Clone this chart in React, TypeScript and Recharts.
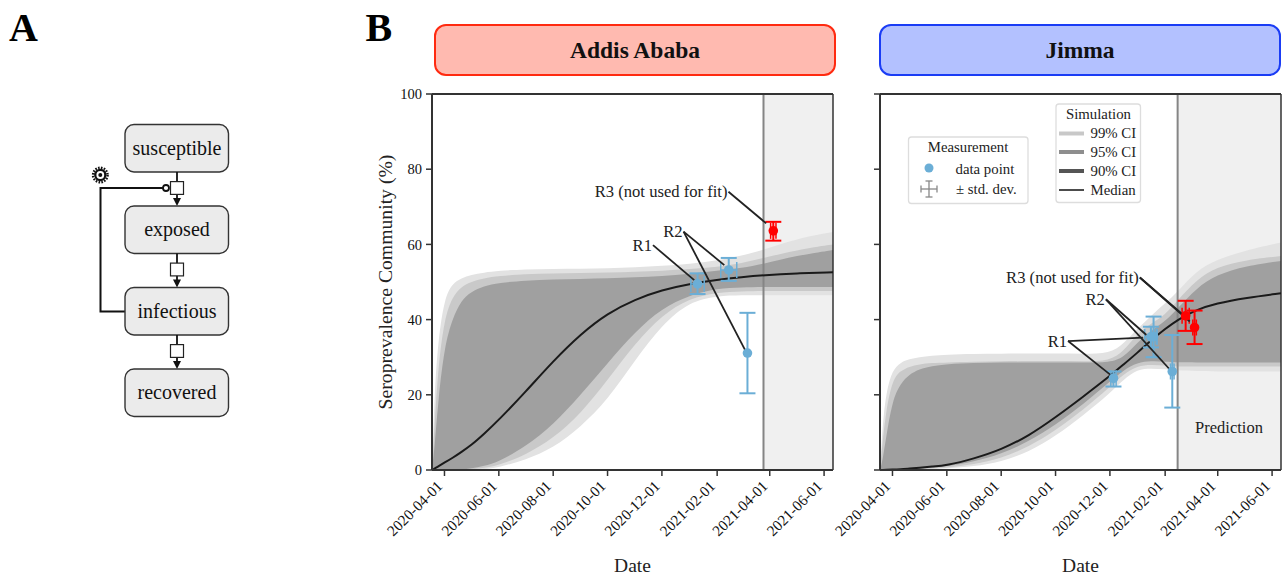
import React from 'react';
import {
  ComposedChart, Area, Line, Scatter, ErrorBar, XAxis, YAxis,
  ReferenceArea, ReferenceLine, ReferenceDot,
} from 'recharts';

const SERIF = '"Liberation Serif", "Times New Roman", serif';

// ----- shared axis content -----
const tickDates = ['2020-04-01', '2020-06-01', '2020-08-01', '2020-10-01', '2020-12-01', '2021-02-01', '2021-04-01', '2021-06-01'];
const yTicks = [0, 20, 40, 60, 80, 100];
const toDay = (s: string) => Math.round((Date.parse(s) - Date.parse('2020-04-01')) / 864e5);
const fromDay = (d: number) => new Date(Date.parse('2020-04-01') + d * 864e5).toISOString().slice(0, 10);
const domainDays = [-14, 436];

// ----- Addis Ababa simulation -----
const addisDays = [-14, -11, -7, 0, 9, 19, 30, 44, 61, 91, 122, 153, 183, 214, 244, 275, 306, 334, 358, 395, 436];
const addisHi99 = [0, 21.3, 34.6, 45.7, 49.6, 51, 51.9, 52.5, 53, 53.4, 53.5, 53.5, 53.6, 53.9, 54.3, 54.8, 55.7, 57, 58.5, 61.5, 63.3];
const addisHi95 = [0, 12.4, 27.5, 40.3, 46.1, 48.8, 50.1, 51, 51.6, 52.1, 52.3, 52.4, 52.5, 52.7, 53, 53.4, 54, 55, 56.4, 58.5, 60];
const addisHi90 = [0, 6.2, 18.6, 32.8, 40.3, 45.2, 47.4, 48.9, 49.8, 50.4, 50.7, 50.8, 51, 51.2, 51.6, 52.1, 53, 53.7, 54.8, 57, 58.5];
const addisLo99 = [0, 0, 0, 0, 0, 0, 0.1, 0.2, 0.7, 2.7, 5.8, 11.5, 18.6, 29.3, 38.6, 44.8, 46.3, 46.5, 46.5, 46.5, 46.5];
const addisLo95 = [0, 0, 0, 0, 0, 0, 0.2, 0.5, 1.3, 4, 8.4, 15, 23.9, 33.7, 41.2, 45.7, 47.2, 47.5, 47.6, 47.6, 47.6];
const addisLo90 = [0, 0, 0, 0, 0, 0.1, 0.4, 1, 2.2, 6.2, 12, 20, 28.4, 36.8, 43, 46.5, 48.3, 48.6, 48.7, 48.7, 48.7];
const addisMedian = [0, 0.4, 1, 1.95, 3.2, 4.8, 6.6, 9.5, 13.3, 20.8, 29, 36.2, 41.7, 45.4, 47.9, 49.5, 50.6, 51.3, 51.8, 52.3, 52.6];

// ----- Jimma simulation -----
const jimmaDays = [-14, -11, -7, 0, 9, 19, 30, 44, 61, 91, 122, 153, 183, 214, 244, 259, 275, 290, 306, 320, 341, 363, 397, 436];
const jimmaHi99 = [0, 12.4, 20.8, 26.6, 28.6, 29.5, 30, 30.4, 30.7, 30.9, 30.9, 31, 31, 30.9, 31, 33.5, 37.6, 41, 44.3, 47.4, 53, 55.9, 58.5, 60.5];
const jimmaHi95 = [0, 8, 16, 24, 26.4, 27.5, 28.1, 28.5, 28.6, 28.8, 28.9, 29, 29, 28.9, 29, 31.5, 36.3, 39, 41.2, 45.2, 50.5, 54, 55.9, 56.9];
const jimmaHi90 = [0, 2.7, 8.9, 18.6, 23, 25.4, 26.8, 27.6, 28.2, 28.5, 28.6, 28.6, 28.6, 28.6, 28.6, 29.8, 34, 37, 39.5, 43, 48.3, 51.9, 54.3, 55.6];
const jimmaLo99 = [0, 0, 0, 0, 0, 0.1, 0.1, 0.2, 0.4, 0.9, 2.2, 4.8, 9, 14.5, 20.4, 24, 26.8, 27, 26.8, 26.5, 26.3, 26.2, 26.2, 26.2];
const jimmaLo95 = [0, 0, 0, 0, 0, 0.1, 0.2, 0.4, 0.6, 1.5, 3.1, 6.2, 10.5, 16, 22, 25.5, 27.7, 28, 27.8, 27.5, 27.5, 27.5, 27.5, 27.5];
const jimmaLo90 = [0, 0, 0, 0, 0.1, 0.2, 0.3, 0.6, 1, 2.2, 4.2, 7.6, 12, 17.5, 23.5, 26.5, 28.6, 29, 28.8, 28.6, 28.6, 28.6, 28.6, 28.6];
const jimmaMedian = [0, 0, 0.05, 0.1, 0.2, 0.4, 0.6, 0.9, 1.2, 3, 5.4, 9.1, 14, 19.5, 25, 28, 31.2, 34.5, 37.5, 40, 42.6, 44.3, 45.8, 47];

// ----- measurements: date, value, y low, y high, x half-width in days -----
const addisFit = [
  ['2021-01-10', 49.5, 46.8, 52.3, 7.5],
  ['2021-02-14', 53.2, 50.3, 56.4, 9],
  ['2021-03-07', 31.1, 20.4, 41.8, 0],
];
const addisHeld = [['2021-04-05', 63.6, 61, 66, 3]];
const jimmaFit = [
  ['2020-12-05', 24.4, 22.2, 26.2, 3],
  ['2021-01-16', 35.4, 32.6, 38.1, 7],
  ['2021-01-19', 35.5, 30, 40.8, 3],
  ['2021-02-09', 26.2, 16.6, 35.9, 2],
];
const jimmaHeld = [
  ['2021-02-24', 41, 37, 45, 4],
  ['2021-03-06', 37.9, 33.5, 42.4, 2],
];

// ----- annotations: label, start [day, value], targets [day, value] -----
const addisNotes = [
  { label: 'R1', from: [234, 59.8], to: [[280.3, 50.5]] },
  { label: 'R2', from: [268.3, 63.4], to: [[314, 54.5], [337.4, 31.9]] },
  { label: 'R3 (not used for fit)', from: [318.7, 74], to: [[361, 65.6]] },
];
const jimmaNotes = [
  { label: 'R1', from: [197, 34.3], to: [[281, 35.2], [244.7, 25.3]] },
  { label: 'R2', from: [239.5, 45.4], to: [[285, 35.9], [311, 26.8]] },
  { label: 'R3 (not used for fit)', from: [277.6, 51.2], to: [[324, 41.7], [333.6, 39.5]] },
];

const addisCut = '2021-03-25';
const jimmaCut = '2021-02-15';

const bandColors = { b99: '#e2e2e2', b95: '#c9c9c9', b90: '#a0a0a0' };
const BLUE = '#6baed6';
const RED = '#ff0000';
const AXIS = '#333333';

const rows = (days: number[], l99: number[], h99: number[], l95: number[], h95: number[], l90: number[], h90: number[], med: number[]) =>
  days.map((day, i) => ({
    day,
    b99: [l99[i], h99[i]],
    b95: [l95[i], h95[i]],
    b90: [l90[i], h90[i]],
    median: med[i],
  }));

const points = (list: any[]) =>
  list.map(([date, value, lo, hi, dx]) => ({
    day: toDay(date),
    value,
    errY: [value - lo, hi - value],
    errX: dx,
  }));

const XTick = (p: any) => {
  const { x, y, payload } = p;
  const ax = x - 1;
  const ay = y + 9;
  return (
    <text
      x={ax}
      y={ay}
      transform={`rotate(-45 ${ax} ${ay})`}
      textAnchor="end"
      fontFamily={SERIF}
      fontSize={15.2}
      fill="#111"
    >
      {fromDay(payload.value)}
    </text>
  );
};

const noteLabel = (text: string) => (p: any) => (
  <text x={p.cx - 1} y={p.cy + 5.5} textAnchor="end" fontFamily={SERIF} fontSize={16.6} fill="#222">
    {text}
  </text>
);

const Panel = ({ left, width, axisX, data, fit, held, notes, cut, yTitle }: any) => {
  const cutDay = toDay(cut);
  return (
    <div style={{ position: 'absolute', left, top: 0, width, height: 576 }}>
      <ComposedChart
        width={width}
        height={576}
        data={data}
        margin={{ top: 94, bottom: 0, left: axisX - 60, right: width - axisX - 401 }}
        style={{ fontFamily: SERIF }}
      >
        <XAxis
          dataKey="day"
          type="number"
          domain={domainDays}
          allowDataOverflow
          ticks={tickDates.map(toDay)}
          interval={0}
          height={106}
          tick={<XTick />}
          tickSize={6}
          axisLine={{ stroke: AXIS, strokeWidth: 2 }}
          tickLine={{ stroke: AXIS, strokeWidth: 1.5 }}
          label={{ value: 'Date', position: 'insideBottom', offset: 4, fontFamily: SERIF, fontSize: 19.5, fill: '#222' }}
        />
        <YAxis
          type="number"
          domain={[0, 100]}
          allowDataOverflow
          ticks={yTicks}
          interval={0}
          width={60}
          tickSize={6}
          tickMargin={4}
          tick={{ fontFamily: SERIF, fontSize: 14.5, fill: '#111' }}
          tickFormatter={yTitle ? (v: number) => String(v) : () => ''}
          axisLine={{ stroke: AXIS, strokeWidth: 2 }}
          tickLine={{ stroke: AXIS, strokeWidth: 1.5 }}
          label={
            yTitle
              ? { value: yTitle, angle: -90, position: 'insideLeft', offset: 13, dy: 0, fontFamily: SERIF, fontSize: 19.7, fill: '#222', textAnchor: 'middle' }
              : undefined
          }
        />
        <ReferenceArea x1={cutDay} x2={domainDays[1]} y1={0} y2={100} fill="#f0f0f0" fillOpacity={1} stroke="none" />
        <Area dataKey="b99" type="basis" fill={bandColors.b99} fillOpacity={1} stroke="none" dot={false} activeDot={false} isAnimationActive={false} />
        <Area dataKey="b95" type="basis" fill={bandColors.b95} fillOpacity={1} stroke="none" dot={false} activeDot={false} isAnimationActive={false} />
        <Area dataKey="b90" type="basis" fill={bandColors.b90} fillOpacity={1} stroke="none" dot={false} activeDot={false} isAnimationActive={false} />
        <ReferenceLine x={cutDay} stroke="#858585" strokeWidth={2} />
        <ReferenceLine y={100} stroke={AXIS} strokeWidth={2} />
        <ReferenceLine x={domainDays[1]} stroke={AXIS} strokeWidth={1.5} />
        <Line dataKey="median" type="basis" stroke="#1a1a1a" strokeWidth={2} dot={false} activeDot={false} isAnimationActive={false} />
        <Scatter data={fit} dataKey="value" fill={BLUE} shape={(p: any) => <circle cx={p.cx} cy={p.cy} r={4.8} fill={BLUE} />} isAnimationActive={false}>
          <ErrorBar dataKey="errY" direction="y" width={8} stroke={BLUE} strokeWidth={2} isAnimationActive={false} />
          <ErrorBar dataKey="errX" direction="x" width={8} stroke={BLUE} strokeWidth={1.5} isAnimationActive={false} />
        </Scatter>
        <Scatter data={held} dataKey="value" fill={RED} shape={(p: any) => <circle cx={p.cx} cy={p.cy} r={4.8} fill={RED} />} isAnimationActive={false}>
          <ErrorBar dataKey="errY" direction="y" width={8} stroke={RED} strokeWidth={2} isAnimationActive={false} />
          <ErrorBar dataKey="errX" direction="x" width={8} stroke={RED} strokeWidth={1.5} isAnimationActive={false} />
        </Scatter>
        {notes.flatMap((n: any) =>
          n.to.map((t: number[], i: number) => (
            <ReferenceLine
              key={n.label + i}
              segment={[{ x: n.from[0], y: n.from[1] }, { x: t[0], y: t[1] }]}
              stroke="#222"
              strokeWidth={1.8}
            />
          )),
        )}
        {notes.map((n: any) => (
          <ReferenceDot key={n.label} x={n.from[0]} y={n.from[1]} r={0} shape={noteLabel(n.label)} />
        ))}
      </ComposedChart>
    </div>
  );
};

const stateBoxes = [
  { name: 'susceptible', top: 124.5, bottom: 172 },
  { name: 'exposed', top: 206, bottom: 253.5 },
  { name: 'infectious', top: 287.5, bottom: 335 },
  { name: 'recovered', top: 369, bottom: 416.5 },
];

const Overlay = () => (
  <svg width={1283} height={576} style={{ position: 'absolute', left: 0, top: 0, pointerEvents: 'none' }} fontFamily={SERIF}>
    <text x={9} y={41} fontSize={40} fontWeight="bold" fill="#000">A</text>
    <text x={365.5} y={41} fontSize={40} fontWeight="bold" fill="#000">B</text>

    {/* state diagram */}
    <path d="M125 311.5H100.5V188H163" fill="none" stroke="#111" strokeWidth={2} />
    <circle cx={166} cy={188} r={3} fill="#fff" stroke="#111" strokeWidth={1.8} />
    <circle cx={100.3} cy={175} r={7.3} fill="none" stroke="#111" strokeWidth={2.4} strokeDasharray="1.6 1.3" />
    <circle cx={100.3} cy={175} r={6.2} fill="#111" />
    <circle cx={100.3} cy={175} r={3.9} fill="#fff" />
    <circle cx={100.3} cy={175} r={2} fill="#111" />
    {stateBoxes.map((b, i) => (
      <g key={b.name}>
        <rect x={125} y={b.top} width={103.5} height={b.bottom - b.top} rx={9} fill="#ebebeb" stroke="#333" strokeWidth={1.4} />
        <text x={177} y={(b.top + b.bottom) / 2 + 6.5} textAnchor="middle" fontSize={20} fill="#111">{b.name}</text>
        {i < 3 && (
          <g>
            <line x1={177} x2={177} y1={b.bottom} y2={stateBoxes[i + 1].top - 5} stroke="#111" strokeWidth={1.8} />
            <path d={`M173 ${stateBoxes[i + 1].top - 8}H181L177 ${stateBoxes[i + 1].top}Z`} fill="#111" />
            <rect x={170.5} y={b.bottom + 9.6} width={13} height={12.8} fill="#fff" stroke="#222" strokeWidth={1.2} />
          </g>
        )}
      </g>
    ))}

    {/* measurement legend */}
    <rect x={908.5} y={137} width={119.5} height={66.5} rx={3} fill="#fff" stroke="#ddd" strokeWidth={1.3} />
    <text x={968} y={152} textAnchor="middle" fontSize={14.8} fill="#222">Measurement</text>
    <circle cx={929} cy={168} r={4.5} fill={BLUE} />
    <text x={955.5} y={174} fontSize={14.8} fill="#222">data point</text>
    <g stroke="#888" strokeWidth={1.3}>
      <line x1={921} x2={937} y1={189} y2={189} />
      <line x1={929} x2={929} y1={181} y2={197} />
      <line x1={921} x2={921} y1={185.5} y2={192.5} />
      <line x1={937} x2={937} y1={185.5} y2={192.5} />
      <line x1={925.5} x2={932.5} y1={181} y2={181} />
      <line x1={925.5} x2={932.5} y1={197} y2={197} />
    </g>
    <text x={956} y={194} fontSize={14.8} fill="#222">± std. dev.</text>

    {/* simulation legend */}
    <rect x={1056} y={104} width={84.5} height={98.5} rx={3} fill="#fff" stroke="#ddd" strokeWidth={1.3} />
    <text x={1098.5} y={119} textAnchor="middle" fontSize={14.8} fill="#222">Simulation</text>
    <line x1={1059} x2={1084} y1={133.5} y2={133.5} stroke="#c8c8c8" strokeWidth={4} />
    <text x={1090.5} y={137.5} fontSize={14.8} fill="#222">99% CI</text>
    <line x1={1059} x2={1084} y1={152} y2={152} stroke="#8e8e8e" strokeWidth={4} />
    <text x={1090.5} y={156.5} fontSize={14.8} fill="#222">95% CI</text>
    <line x1={1059} x2={1084} y1={171} y2={171} stroke="#555" strokeWidth={4} />
    <text x={1090.5} y={175.5} fontSize={14.8} fill="#222">90% CI</text>
    <line x1={1059} x2={1084} y1={190} y2={190} stroke="#111" strokeWidth={1.5} />
    <text x={1090.5} y={194.5} fontSize={14.8} fill="#222">Median</text>

    <text x={1229} y={433} textAnchor="middle" fontSize={16.5} fill="#222">Prediction</text>
  </svg>
);

const Header = ({ left, text, fill, stroke }: any) => (
  <div
    style={{
      position: 'absolute', left, top: 24, width: 402, height: 52, boxSizing: 'border-box',
      background: fill, border: `2px solid ${stroke}`, borderRadius: 12,
      display: 'flex', alignItems: 'center', justifyContent: 'center',
      fontFamily: SERIF, fontWeight: 'bold', fontSize: 23.5, color: '#111',
    }}
  >
    {text}
  </div>
);

const addisData = rows(addisDays, addisLo99, addisHi99, addisLo95, addisHi95, addisLo90, addisHi90, addisMedian);
const jimmaData = rows(jimmaDays, jimmaLo99, jimmaHi99, jimmaLo95, jimmaHi95, jimmaLo90, jimmaHi90, jimmaMedian);

export default function App() {
  return (
    <div style={{ position: 'absolute', left: 0, top: 0, width: 1283, height: 576, overflow: 'hidden', background: '#fff' }}>
      <Panel left={340} width={510} axisX={92} data={addisData} fit={points(addisFit)} held={points(addisHeld)} notes={addisNotes} cut={addisCut} yTitle="Seroprevalence Community (%)" />
      <Panel left={790} width={493} axisX={90} data={jimmaData} fit={points(jimmaFit)} held={points(jimmaHeld)} notes={jimmaNotes} cut={jimmaCut} />
      <Header left={434} text="Addis Ababa" fill="#ffbab0" stroke="#ff2a10" />
      <Header left={879} text="Jimma" fill="#b3c1ff" stroke="#1a3cf5" />
      <Overlay />
    </div>
  );
}
